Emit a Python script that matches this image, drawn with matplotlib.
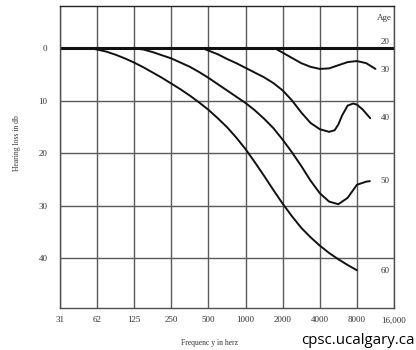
import matplotlib
matplotlib.use("Agg")
import matplotlib.pyplot as plt

# Octave tick frequencies and their labels
tick_freqs = [31.25, 62.5, 125, 250, 500, 1000, 2000, 4000, 8000, 16000]
tick_labels = ["31", "62", "125", "250", "500", "1000", "2000", "4000", "8000", "16,000"]
y_ticks = [0, 10, 20, 30, 40]

# Age curves: frequency (Hz) and hearing loss (dB)
age20_f = [31.25, 16000]
age20_db = [0, 0]

age30_f = [1741, 2000, 2378, 2828, 3364, 4000, 4757, 5657, 6727, 8000, 9514, 11314]
age30_db = [0, 0.8, 1.8, 2.8, 3.5, 3.9, 3.8, 3.2, 2.6, 2.4, 2.8, 3.9]

age40_f = [451, 500, 594.6, 707.1, 840.9, 1000, 1189, 1414, 1682, 2000, 2378, 2828,
           3364, 4000, 4757, 5278, 5657, 6063, 6727, 7465, 8000, 8877, 10266]
age40_db = [0, 0.4, 1.1, 2.0, 2.8, 3.7, 4.6, 5.5, 6.6, 8.0, 9.9, 12.2,
            14.2, 15.4, 15.9, 15.6, 14.5, 12.8, 10.9, 10.5, 10.7, 11.6, 13.3]

age50_f = [125, 148.6, 176.8, 210.2, 250, 297.3, 353.6, 420.4, 500, 594.6, 707.1,
           840.9, 1000, 1189, 1414, 1682, 2000, 2378, 2828, 3364, 4000, 4757, 5657,
           6727, 8000, 9514, 10194]
age50_db = [0, 0.2, 0.7, 1.3, 1.9, 2.7, 3.5, 4.5, 5.6, 6.8, 8.0,
            9.2, 10.4, 11.8, 13.4, 15.2, 17.4, 19.8, 22.4, 25.2, 27.6, 29.2, 29.7,
            28.5, 26.0, 25.4, 25.3]

age60_f = [56.4, 62.5, 74.3, 88.4, 105.1, 125, 148.6, 176.8, 210.2, 250, 297.3,
           353.6, 420.4, 500, 594.6, 707.1, 840.9, 1000, 1189, 1414, 1682, 2000,
           2378, 2828, 3364, 4000, 4757, 5657, 6727, 8000]
age60_db = [0, 0.2, 0.6, 1.2, 1.9, 2.7, 3.6, 4.6, 5.6, 6.7, 7.8,
            9.0, 10.3, 11.7, 13.3, 15.0, 17.0, 19.2, 21.7, 24.3, 27.0, 29.6,
            32.0, 34.2, 36.0, 37.6, 39.0, 40.2, 41.3, 42.3]

ages = ["20", "30", "40", "50", "60"]
label_db = [-1.3, 4.1, 13.2, 25.3, 42.5]

fig = plt.figure(figsize=(4.16, 3.5), dpi=100)
ax = fig.add_axes([60/416, 1-308/350, 334/416, 302/350])
ax.set_xscale("log", base=2)
ax.set_xlim(31.25, 16000)
ax.set_ylim(49.5, -8.1)

serif = ["Liberation Serif", "DejaVu Serif"]
ax.set_xticks(tick_freqs)
ax.set_xticklabels(tick_labels, family=serif, fontsize=6.5, color="#333333")
ax.set_yticks(y_ticks)
ax.set_yticklabels([str(v) for v in y_ticks], family=serif, fontsize=6.5, color="#333333")
ax.xaxis.set_minor_locator(matplotlib.ticker.NullLocator())
ax.tick_params(length=0, pad=6)
ax.tick_params(axis="y", pad=9)
ax.grid(True, color="#5a5a5a", linewidth=1.0)
for s in ax.spines.values():
    s.set_color("#505050")
    s.set_linewidth(1.0)
ax.spines["top"].set_color("#222222")

ax.plot(age20_f, age20_db, color="#111111", lw=2.2)
for f, d in [(age30_f, age30_db), (age40_f, age40_db), (age50_f, age50_db), (age60_f, age60_db)]:
    ax.plot(f, d, color="#111111", lw=1.4, solid_capstyle="round", solid_joinstyle="round")

ax.text(13300, -5.9, "Age", family=serif, fontsize=6.5, ha="center", va="center", color="#333333")
for a, d in zip(ages, label_db):
    ax.text(13500, d, a, family=serif, fontsize=6.5, ha="center", va="center", color="#333333")

fig.text(17/416, 1-143/350, "Hearing loss in db", rotation=90, family=serif,
         fontsize=5.5, ha="center", va="center", color="#333333")
fig.text(210/416, 1-343/350, "Frequenc y in herz", family=serif,
         fontsize=5.5, ha="center", va="center", color="#333333")
fig.text(358/416, 1-340/350, "cpsc.ucalgary.ca", family=["Open Sans", "DejaVu Sans"],
         fontsize=10.8, ha="center", va="center", color="#000000")

fig.savefig("out.png", dpi=100)
